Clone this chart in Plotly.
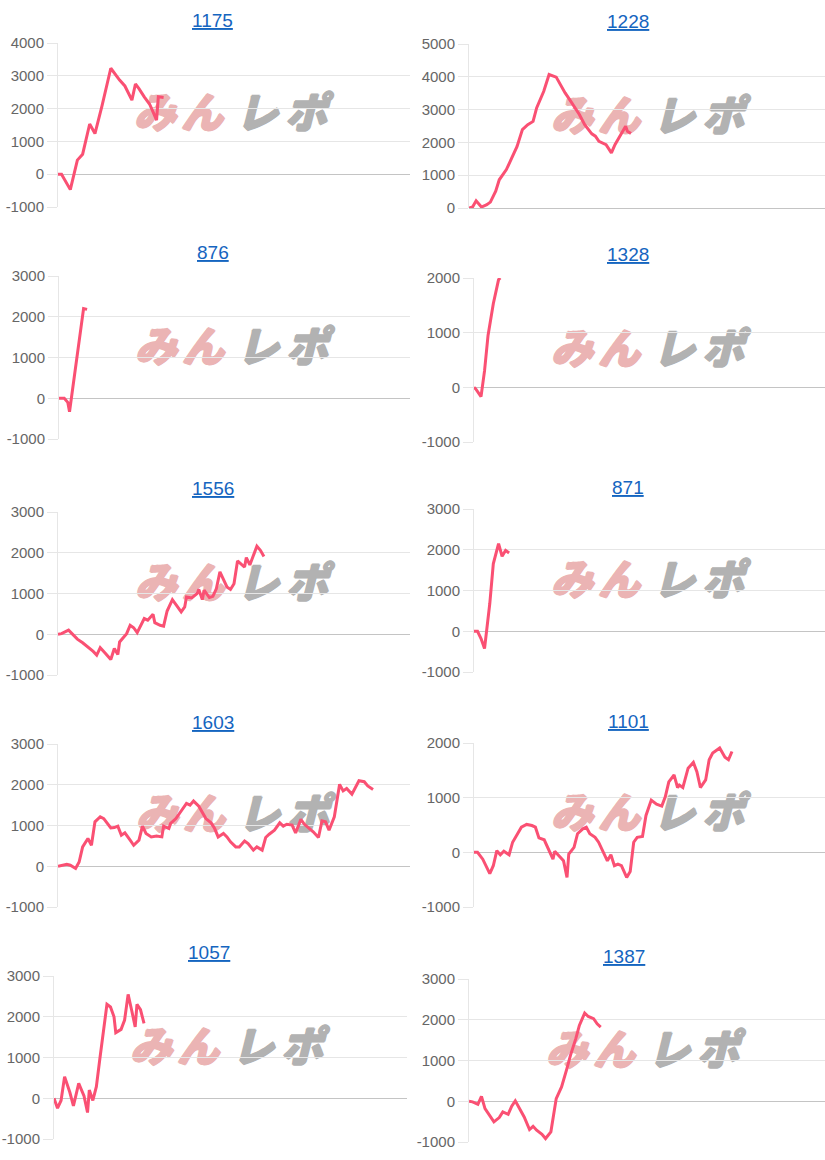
import plotly.graph_objects as go

# ---------------- data ----------------
titles = ["1175", "1228", "876", "1328", "1556", "871", "1603", "1101", "1057", "1387"]

x1 = [0, 2, 7, 11, 14, 18, 21, 25, 30, 33, 35, 38, 42, 44, 46, 49, 52, 54, 56, 57, 60]
y1 = [0, 0, -470, 430, 610, 1530, 1240, 2080, 3230, 3000, 2870, 2690, 2260, 2750, 2610, 2360, 2140, 1900, 1650, 2360, 2340]

x2 = [0, 2, 4, 7, 10, 12, 15, 17, 21, 24, 27, 30, 33, 36, 38, 42, 45, 49, 51, 54, 56, 59, 62, 65, 69, 71, 73, 77, 80, 82, 85, 88, 89, 91]
y2 = [0, 30, 220, 30, 100, 180, 510, 860, 1170, 1520, 1880, 2390, 2540, 2640, 3050, 3560, 4070, 3990, 3790, 3510,
      3350, 3100, 2850, 2540, 2260, 2190, 2030, 1930, 1680, 1930, 2190, 2490, 2340, 2270]

x3 = [0, 3, 5, 6, 14, 16]
y3 = [0, 0, -100, -330, 2200, 2180]

x4 = [0, 1, 4, 6, 8, 11, 14, 15]
y4 = [0, -30, -170, 300, 950, 1530, 1970, 2000]

x5 = [0, 2, 6, 9, 11, 14, 17, 20, 22, 24, 27, 30, 32, 34, 35, 38, 39, 41, 43, 45, 47, 49, 51, 54, 55, 58, 60, 62, 65, 67,
      70, 72, 73, 76, 79, 80, 82, 83, 86, 88, 90, 92, 94, 96, 98, 100, 102, 104, 106, 107, 109, 113, 115, 117]
y5 = [0, 15, 100, -25, -120, -210, -310, -420, -510, -330, -470, -620, -350, -500, -190, -25, 15, 220, 160, 40,
      220, 385, 345, 490, 285, 220, 200, 570, 850, 735, 550, 670, 915, 890, 995, 1100, 850, 1080, 900, 930,
      1120, 1530, 1325, 1160, 1100, 1240, 1800, 1715, 1650, 1880, 1700, 2160, 2060, 1910]

x6 = [0, 2, 4, 6, 9, 11, 14, 16, 18, 20]
y6 = [0, 0, -180, -425, 680, 1655, 2150, 1840, 1985, 1920]

x7 = [0, 3, 5, 7, 10, 12, 14, 17, 19, 21, 24, 26, 28, 30, 32, 34, 36, 38, 41, 43, 46, 48, 50, 53, 56, 59, 60, 63, 64, 67,
      69, 71, 73, 75, 77, 80, 82, 84, 87, 89, 91, 94, 96, 98, 101, 103, 106, 108, 111, 113, 116, 118, 120, 123, 126, 128,
      130, 133, 135, 138, 140, 143, 145, 148, 150, 152, 154, 157, 160, 162, 164, 167, 169, 171, 174, 176, 179]
y7 = [0, 25, 50, 25, -55, 105, 475, 680, 515, 1090, 1215, 1170, 1050, 940, 950, 985, 760, 820, 640, 515,
      640, 985, 805, 720, 740, 720, 985, 925, 1050, 1170, 1295, 1420, 1540, 1500, 1600, 1475, 1310, 1170, 1065, 925,
      720, 805, 720, 600, 475, 475, 620, 555, 395, 475, 395, 705, 785, 885, 1065, 985, 1030, 1010, 820, 1150,
      1030, 925, 845, 705, 1115, 1090, 885, 1215, 2010, 1850, 1910, 1770, 1935, 2100, 2075, 1970, 1885]

x8 = [0, 2, 5, 7, 9, 11, 13, 15, 17, 20, 22, 25, 27, 30, 33, 35, 37, 40, 42, 45, 46, 49, 51, 53, 54, 57, 59, 62, 64, 66,
      69, 71, 73, 76, 78, 80, 82, 84, 87, 89, 91, 93, 96, 98, 101, 104, 107, 109, 111, 114, 116, 117, 119, 122, 125, 127,
      129, 132, 134, 136, 140, 143, 145, 147]
y8 = [0, 0, -125, -260, -390, -245, 30, -45, 20, -45, 185, 350, 460, 510, 490, 460, 265, 230, 80, -125,
      20, -80, -155, -460, -30, 90, 340, 430, 460, 340, 275, 185, 60, -155, -45, -245, -215, -245, -460, -350,
      185, 275, 290, 675, 955, 880, 845, 1015, 1290, 1415, 1185, 1230, 1185, 1540, 1645, 1475, 1185, 1325, 1695, 1815,
      1910, 1740, 1695, 1845]

x9 = [0, 2, 4, 6, 9, 11, 14, 17, 19, 20, 22, 24, 26, 28, 30, 32, 34, 35, 38, 40, 42, 44, 46, 47, 49, 51]
y9 = [0, -245, -55, 530, 140, -190, 365, 55, -350, 200, -55, 285, 975, 1670, 2305, 2240, 2000, 1610, 1690, 1920,
      2550, 2160, 1750, 2305, 2175, 1835]

x10 = [0, 2, 5, 7, 9, 12, 14, 17, 19, 22, 24, 26, 28, 31, 34, 36, 38, 41, 43, 46, 49, 52, 55, 57, 60, 62, 65, 67, 70, 72, 74]
y10 = [0, -15, -75, 120, -180, -385, -505, -400, -260, -320, -120, 10, -140, -385, -695, -615, -710, -810, -915, -750,
       65, 350, 800, 1125, 1535, 1860, 2165, 2080, 2025, 1900, 1820]

xs = [x1, x2, x3, x4, x5, x6, x7, x8, x9, x10]
ys = [y1, y2, y3, y4, y5, y6, y7, y8, y9, y10]

y_min = [-1000, 0, -1000, -1000, -1000, -1000, -1000, -1000, -1000, -1000]
y_max = [4000, 5000, 3000, 2000, 3000, 3000, 3000, 2000, 3000, 3000]
x_max = 200

# ---------------- layout geometry (pixels) ----------------
W, H = 825, 1160
# plot left, right, top, bottom, title cx, title cy, logo cx, logo cy
geom = [
    (58, 410, 43, 207, 212, 20, 232, 117),
    (469, 825, 44, 208, 628, 22, 649, 120),
    (59, 410, 276, 439, 213, 253, 233, 351),
    (474, 825, 278, 442, 628, 254, 649, 353),
    (58, 410, 512, 675, 213, 489, 233, 587),
    (474, 825, 509, 672, 628, 487, 649, 584),
    (58, 410, 744, 907, 213, 722, 234, 818),
    (474, 825, 743, 907, 628, 721, 649, 817),
    (54, 407, 976, 1139, 209, 953, 228, 1051),
    (469, 825, 979, 1142, 624, 956, 644, 1054),
]

LINE = "#fa5073"
GRID = "#e6e6e6"
ZERO = "#c4c4c4"
PINK = "#ebb4b4"
GRAY = "#b2b2b2"
TICKFONT = dict(family="Arial, Liberation Sans, sans-serif", size=15, color="#666666")

fig = go.Figure()
annotations = []
layout_axes = {}

# watermark layer (bottom subplot, pixel space)
layout_axes["xaxis"] = dict(domain=[0, 1], range=[0, W], visible=False, fixedrange=True, anchor="y")
layout_axes["yaxis"] = dict(domain=[0, 1], range=[H, 0], visible=False, fixedrange=True, anchor="x")


def shadow(c):
    return f"1px 0px 0px {c}, -1px 0px 0px {c}, 0px 1px 0px {c}, 0px -1px 0px {c}"


for chars, offs, col in [(["み", "ん"], [-77, -30], PINK), (["レ", "ポ"], [25, 74], GRAY)]:
    lx, ly, lt = [], [], []
    for g in geom:
        for ch, dx in zip(chars, offs):
            lx.append(g[6] + dx)
            ly.append(g[7])
            lt.append(ch)
    fig.add_trace(go.Scatter(
        x=lx, y=ly, text=lt, mode="text", textposition="middle center",
        textfont=dict(family="Noto Sans CJK JP", size=42, color=col, weight=900,
                      style="italic", shadow=shadow(col)),
        xaxis="x", yaxis="y", showlegend=False, hoverinfo="skip", cliponaxis=False))

for i in range(10):
    L, R, T, B, tcx, tcy, lcx, lcy = geom[i]
    n = str(i + 2)
    fig.add_trace(go.Scatter(
        x=xs[i], y=ys[i], mode="lines",
        line=dict(color=LINE, width=3),
        xaxis="x" + n, yaxis="y" + n, showlegend=False, hoverinfo="skip"))
    layout_axes["xaxis" + n] = dict(
        domain=[L / W, min(R / W, 1.0)], range=[0, x_max], anchor="y" + n,
        showgrid=False, showticklabels=False, ticks="", zeroline=False, showline=False,
        fixedrange=True, automargin=False)
    tv = list(range(y_min[i], y_max[i] + 1, 1000))
    layout_axes["yaxis" + n] = dict(
        domain=[1 - B / H, 1 - T / H], range=[y_min[i], y_max[i]], anchor="x" + n,
        tickvals=tv, ticktext=[str(v) for v in tv],
        showgrid=True, gridcolor=GRID, gridwidth=1,
        zeroline=True, zerolinecolor=ZERO, zerolinewidth=1,
        showline=True, linecolor=GRID, linewidth=1,
        ticks="outside", ticklen=10, tickcolor=GRID, tickwidth=1,
        tickfont=TICKFONT, fixedrange=True, automargin=False)
    annotations.append(dict(
        text="<u>" + titles[i] + "</u>", xref="paper", yref="paper",
        x=tcx / W, y=1 - tcy / H, xanchor="center", yanchor="middle", showarrow=False,
        font=dict(family="Arial, Liberation Sans, sans-serif", size=19, color="#1565c0")))

fig.update_layout(
    width=W, height=H, margin=dict(l=0, r=0, t=0, b=0, pad=0, autoexpand=False),
    paper_bgcolor="white", plot_bgcolor="rgba(0,0,0,0)",
    annotations=annotations, **layout_axes)

fig.write_html("out.html", config={"displayModeBar": False},
               post_script="document.body.style.margin='0';document.body.style.overflow='hidden';")
